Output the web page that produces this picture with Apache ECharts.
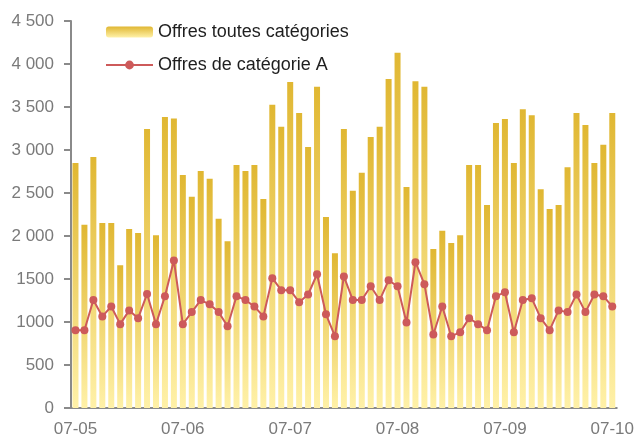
<!DOCTYPE html>
<html>
<head>
<meta charset="utf-8">
<style type="text/css">
html, body { margin: 0; padding: 0; background: #fff; }
#chart { width: 637px; height: 441px; }
</style>
<script type="text/javascript" src="https://cdn.jsdelivr.net/npm/echarts@6/dist/echarts.min.js"></script>
</head>
<body>
<div id="chart"></div>
<script type="text/javascript">
// libellés des graduations (une tous les 12 points)
var monthLabels = ['07-05', '07-06', '07-07', '07-08', '07-09', '07-10'];
var stepPerMonth = 12;

// offres toutes catégories (barres)
var allOffers = [
	2850, 2130, 2920, 2150, 2150, 1660, 2080, 2035, 3245, 2010,
	3385, 3365, 2710, 2455, 2755, 2665, 2200, 1940, 2825, 2755,
	2825, 2430, 3525, 3270, 3790, 3430, 3035, 3735, 2220, 1800,
	3245, 2525, 2735, 3150, 3270, 3825, 4130, 2570, 3800, 3735,
	1850, 2060, 1920, 2010, 2825, 2825, 2360, 3315, 3360, 2850,
	3475, 3405, 2545, 2315, 2360, 2800, 3430, 3290, 2850, 3060,
	3430
];

// offres de catégorie A (ligne)
var catAOffers = [
	905, 905, 1255, 1065, 1180, 975, 1135, 1045, 1325, 975,
	1300, 1715, 975, 1115, 1255, 1205, 1115, 950, 1300, 1255,
	1180, 1065, 1510, 1370, 1370, 1230, 1320, 1555, 1090, 835,
	1530, 1255, 1255, 1415, 1255, 1485, 1415, 995, 1695, 1440,
	855, 1180, 835, 880, 1045, 975, 905, 1300, 1345, 880,
	1255, 1275, 1045, 905, 1135, 1115, 1320, 1115, 1320, 1300,
	1180
];

var categories = allOffers.map(function (v, i) { return String(i); });

function yLabel(v) {
	// séparateur de milliers seulement à partir de 2 000
	return v >= 2000 ? String(v).replace(/(\d)(\d{3})$/, '$1 $2') : String(v);
}

var axisGrey = '#8a8a8a', labelGrey = '#7a7a7a';

var chart = echarts.init(document.getElementById('chart'));
chart.setOption({
	animation: false,
	textStyle: { fontFamily: 'Liberation Sans, Arial, sans-serif' },
	grid: { left: 71, right: 19, top: 21, bottom: 33 },
	legend: {
		orient: 'vertical',
		left: 105,
		top: 23,
		padding: 0,
		itemWidth: 47,
		itemHeight: 11,
		itemGap: 15,
		textStyle: { fontSize: 18, color: '#1e1e1e' },
		data: ['Offres toutes catégories', 'Offres de catégorie A']
	},
	xAxis: {
		type: 'category',
		data: categories,
		boundaryGap: true,
		axisLine: { lineStyle: { color: axisGrey, width: 2 } },
		axisTick: { interval: stepPerMonth - 1, length: 6, lineStyle: { color: axisGrey, width: 2 } },
		axisLabel: {
			interval: stepPerMonth - 1,
			margin: 13,
			fontSize: 17,
			color: labelGrey,
			formatter: function (v, i) { return monthLabels[Math.floor(i / stepPerMonth)]; }
		},
		splitLine: { show: false }
	},
	yAxis: {
		type: 'value',
		min: 0,
		max: 4500,
		interval: 500,
		axisLine: { show: true, lineStyle: { color: axisGrey, width: 2 } },
		axisTick: { show: true, length: 7, lineStyle: { color: axisGrey, width: 2 } },
		axisLabel: { margin: 17, fontSize: 17, color: labelGrey, formatter: yLabel },
		splitLine: { show: false }
	},
	series: [{
		name: 'Offres toutes catégories',
		type: 'bar',
		barWidth: 6,
		data: allOffers,
		itemStyle: {
			color: new echarts.graphic.LinearGradient(0, 0, 0, 1, [
				{ offset: 0, color: '#e0b732' },
				{ offset: 1, color: '#fff1a8' }
			])
		}
	}, {
		name: 'Offres de catégorie A',
		type: 'line',
		data: catAOffers,
		symbol: 'circle',
		symbolSize: 8,
		showSymbol: true,
		showAllSymbol: true,
		lineStyle: { color: '#cd5a5a', width: 2 },
		itemStyle: { color: '#cd5a5a' }
	}]
});
</script>
</body>
</html>
